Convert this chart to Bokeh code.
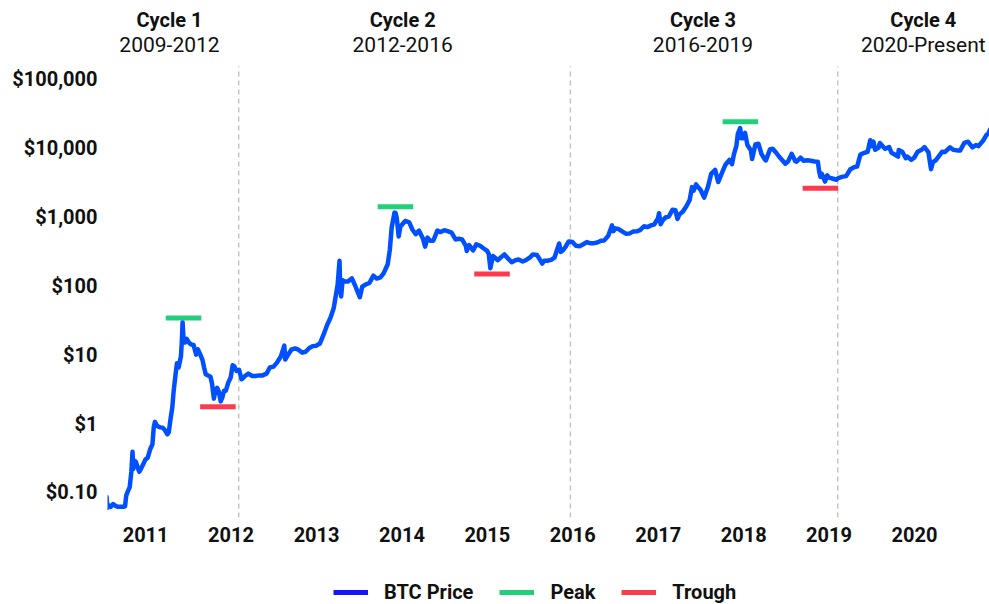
import pandas as pd
from bokeh.plotting import figure
from bokeh.layouts import column
from bokeh.models import (FixedTicker, DatetimeTickFormatter, Legend, LegendItem,
                          ColumnDataSource, Range1d)
from bokeh.embed import file_html
from bokeh.resources import INLINE
from bokeh.core.properties import value

# ---------------- data ----------------
btc_dates = [
    "2010-07-18", "2010-07-22", "2010-07-28", "2010-08-05", "2010-08-15", "2010-08-25",
    "2010-09-05", "2010-09-15", "2010-09-28", "2010-10-05", "2010-10-10", "2010-10-15",
    "2010-10-25", "2010-11-01", "2010-11-06", "2010-11-09", "2010-11-13", "2010-11-20",
    "2010-11-28", "2010-12-05", "2010-12-12", "2010-12-20", "2010-12-31",
    "2011-01-10", "2011-01-20", "2011-01-30", "2011-02-05", "2011-02-10", "2011-02-17",
    "2011-02-25", "2011-03-05", "2011-03-15", "2011-03-25", "2011-04-04", "2011-04-10",
    "2011-04-18", "2011-04-25", "2011-05-01", "2011-05-10", "2011-05-15", "2011-05-22",
    "2011-06-01", "2011-06-05", "2011-06-08", "2011-06-12", "2011-06-18", "2011-06-25",
    "2011-07-05", "2011-07-15", "2011-07-25", "2011-08-05", "2011-08-12", "2011-08-20",
    "2011-09-01", "2011-09-08", "2011-09-15", "2011-09-25", "2011-10-05", "2011-10-12",
    "2011-10-20", "2011-10-26", "2011-11-03", "2011-11-10", "2011-11-18", "2011-11-25",
    "2011-12-02", "2011-12-10", "2011-12-20", "2011-12-31",
    "2012-01-08", "2012-01-15", "2012-01-25", "2012-02-05", "2012-02-15", "2012-02-22",
    "2012-03-01", "2012-03-15", "2012-04-01", "2012-04-15", "2012-05-01", "2012-05-15",
    "2012-06-01", "2012-06-15", "2012-07-01", "2012-07-15", "2012-08-01", "2012-08-16",
    "2012-08-20", "2012-09-01", "2012-09-15", "2012-10-01", "2012-10-15", "2012-11-01",
    "2012-11-15", "2012-12-01", "2012-12-15", "2012-12-31",
    "2013-01-15", "2013-02-01", "2013-02-15", "2013-03-01", "2013-03-15", "2013-03-25",
    "2013-04-01", "2013-04-09", "2013-04-12", "2013-04-16", "2013-04-22", "2013-05-01",
    "2013-05-15", "2013-06-01", "2013-06-15", "2013-07-05", "2013-07-15", "2013-08-01",
    "2013-08-15", "2013-09-01", "2013-09-15", "2013-10-01", "2013-10-15", "2013-11-01",
    "2013-11-10", "2013-11-18", "2013-11-30", "2013-12-05", "2013-12-10", "2013-12-18",
    "2013-12-25", "2013-12-31",
    "2014-01-15", "2014-02-01", "2014-02-15", "2014-03-01", "2014-03-15", "2014-04-01",
    "2014-04-10", "2014-04-20", "2014-05-01", "2014-05-15", "2014-06-01", "2014-06-15",
    "2014-07-01", "2014-07-15", "2014-08-01", "2014-08-18", "2014-09-01", "2014-09-15",
    "2014-10-01", "2014-10-05", "2014-10-15", "2014-11-01", "2014-11-15", "2014-12-01",
    "2014-12-15", "2014-12-31",
    "2015-01-07", "2015-01-14", "2015-01-25", "2015-02-15", "2015-03-01", "2015-03-15",
    "2015-04-01", "2015-04-15", "2015-05-01", "2015-05-15", "2015-06-01", "2015-06-15",
    "2015-07-01", "2015-07-15", "2015-08-01", "2015-08-24", "2015-09-01", "2015-09-15",
    "2015-10-01", "2015-10-15", "2015-11-04", "2015-11-11", "2015-11-20", "2015-12-01",
    "2015-12-15", "2015-12-31",
    "2016-01-15", "2016-02-01", "2016-02-15", "2016-03-01", "2016-03-15", "2016-04-01",
    "2016-04-15", "2016-05-01", "2016-05-15", "2016-06-01", "2016-06-17", "2016-06-23",
    "2016-07-01", "2016-07-15", "2016-08-01", "2016-08-15", "2016-09-01", "2016-09-15",
    "2016-10-01", "2016-10-15", "2016-11-01", "2016-11-15", "2016-12-01", "2016-12-15",
    "2016-12-31",
    "2017-01-04", "2017-01-11", "2017-01-20", "2017-02-01", "2017-02-15", "2017-03-03",
    "2017-03-15", "2017-03-24", "2017-04-01", "2017-04-15", "2017-05-01", "2017-05-15",
    "2017-05-25", "2017-06-01", "2017-06-11", "2017-06-20", "2017-07-01", "2017-07-16",
    "2017-08-01", "2017-08-15", "2017-09-01", "2017-09-14", "2017-10-01", "2017-10-15",
    "2017-11-01", "2017-11-12", "2017-11-20", "2017-12-01", "2017-12-07", "2017-12-17",
    "2017-12-22", "2017-12-31",
    "2018-01-07", "2018-01-17", "2018-02-01", "2018-02-06", "2018-02-20", "2018-03-05",
    "2018-03-18", "2018-04-01", "2018-04-06", "2018-04-24", "2018-05-05", "2018-05-20",
    "2018-06-01", "2018-06-28", "2018-07-10", "2018-07-25", "2018-08-10", "2018-08-15",
    "2018-09-01", "2018-09-15", "2018-10-01", "2018-10-15", "2018-11-01", "2018-11-14",
    "2018-11-20", "2018-11-25", "2018-12-01", "2018-12-15", "2018-12-24", "2018-12-31",
    "2019-01-15", "2019-02-01", "2019-02-10", "2019-02-25", "2019-03-15", "2019-04-02",
    "2019-04-20", "2019-05-01", "2019-05-15", "2019-06-01", "2019-06-15", "2019-06-26",
    "2019-07-01", "2019-07-10", "2019-07-17", "2019-08-01", "2019-08-06", "2019-08-28",
    "2019-09-15", "2019-09-25", "2019-10-01", "2019-10-23", "2019-10-26", "2019-11-10",
    "2019-11-25", "2019-12-01", "2019-12-18", "2019-12-31",
    "2020-01-15", "2020-02-01", "2020-02-13", "2020-03-01", "2020-03-12", "2020-03-20",
    "2020-04-01", "2020-04-29", "2020-05-10", "2020-06-01", "2020-06-15", "2020-07-01",
    "2020-07-15", "2020-08-01", "2020-08-17", "2020-09-05", "2020-09-20", "2020-10-01",
    "2020-10-21", "2020-11-05", "2020-11-12", "2020-11-17", "2020-11-20",
]
btc_prices = [
    0.086, 0.060, 0.065, 0.062, 0.068, 0.064,
    0.062, 0.062, 0.062, 0.063, 0.090, 0.100,
    0.120, 0.200, 0.390, 0.220, 0.290, 0.280,
    0.230, 0.200, 0.220, 0.250, 0.300,
    0.32, 0.42, 0.50, 0.90, 1.06, 0.95,
    0.90, 0.88, 0.87, 0.80, 0.70, 0.75,
    1.2, 1.7, 3.0, 5.5, 7.5, 6.5,
    9.5, 16, 29.6, 17, 15, 17,
    15, 14, 13.8, 10, 12, 10.5,
    8.4, 6.5, 5.2, 5.0, 4.8, 3.8,
    2.3, 3.0, 3.3, 2.9, 2.1, 2.4,
    3.0, 3.0, 3.9, 4.7,
    7.0, 6.8, 5.8, 6.0, 4.4, 4.6,
    4.9, 5.3, 4.9, 4.9, 5.0, 5.0,
    5.3, 6.5, 6.7, 7.6, 9.4, 13.5,
    8.5, 10.0, 11.8, 12.3, 11.8, 10.7,
    11.0, 12.5, 13.3, 13.5,
    14.5, 20, 27, 34, 47, 75,
    104, 230, 90, 70, 120, 115,
    115, 128, 100, 68, 97, 105,
    110, 140, 127, 132, 152, 205,
    330, 700, 1150, 1130, 950, 520,
    720, 760,
    870, 830, 650, 560, 630, 480,
    370, 500, 450, 450, 630, 600,
    640, 620, 590, 470, 480, 470,
    380, 320, 390, 325, 400, 380,
    350, 320,
    290, 180, 270, 235, 260, 285,
    245, 220, 235, 240, 225, 235,
    255, 285, 280, 210, 230, 230,
    237, 255, 410, 310, 325, 365,
    440, 430,
    380, 375, 400, 430, 415, 415,
    425, 450, 455, 530, 750, 620,
    680, 665, 610, 570, 575, 610,
    615, 640, 730, 710, 750, 780,
    960,
    1130, 780, 890, 980, 1010, 1270,
    1250, 930, 1080, 1180, 1420, 1750,
    2700, 2400, 2950, 2700, 2450, 1900,
    2700, 4200, 4800, 3200, 4400, 5700,
    6700, 5800, 8000, 10800, 16000, 19400,
    13800, 13800,
    16500, 11000, 9200, 6900, 11200, 11500,
    8200, 6800, 6600, 9600, 9700, 8500,
    7500, 5900, 6400, 8200, 6400, 6300,
    7200, 6500, 6600, 6500, 6350, 6300,
    4500, 3800, 4200, 3250, 4000, 3700,
    3600, 3450, 3650, 3800, 3900, 4900,
    5300, 5350, 8000, 8500, 8800, 12900,
    10600, 12300, 9400, 10100, 11800, 9700,
    10300, 8500, 8300, 7500, 9300, 8800,
    7100, 7500, 6700, 7200,
    8800, 9400, 10300, 8600, 4900, 6200,
    6600, 8800, 8700, 10200, 9400, 9200,
    9200, 11800, 12300, 10200, 11000, 10600,
    12800, 15600, 16000, 17800, 18700,
]

peak_dates = ["2011-06-12", "2013-12-04", "2017-12-18"]
peak_levels = [34, 1400, 24000]
trough_dates = ["2011-11-06", "2015-01-21", "2018-11-25"]
trough_levels = [1.75, 148, 2600]

cycle_names = ["Cycle 1", "Cycle 2", "Cycle 3", "Cycle 4"]
cycle_years = ["2009-2012", "2012-2016", "2016-2019", "2020-Present"]
cycle_label_dates = ["2011-04-13", "2014-01-04", "2017-07-11", "2020-02-08"]
cycle_boundaries = ["2012-02-03", "2015-12-22", "2019-02-07"]

year_ticks = list(range(2011, 2021))
price_ticks = [0.1, 1, 10, 100, 1000, 10000, 100000]
price_labels = ["$0.10", "$1", "$10", "$100", "$1,000", "$10,000", "$100,000"]

legend_labels = ["BTC Price", "Peak", "Trough"]

# ---------------- styling / layout ----------------
BLUE = "#0050ff"
BLUE_LEGEND = "#1414ff"
GREEN = "#22cf7a"
RED = "#ff3a4c"
GRAY = "#c4c4c4"
TXT = "#111111"
FONT = "Roboto"

X_START, X_END = "2010-07-22", "2020-11-17"
Y_START, Y_END = 10 ** -1.363, 10 ** 6.139
DASH_TOP = 10 ** 5.18
TITLE_Y = 10 ** 5.863
SUB_Y = 10 ** 5.50
HALF_W = pd.Timedelta(days=76)


def ts(d):
    return pd.to_datetime(d)


src = ColumnDataSource(dict(x=pd.to_datetime(btc_dates), y=btc_prices))

p = figure(width=989, height=560, x_axis_type="datetime", y_axis_type="log",
           output_backend="svg", toolbar_location=None,
           x_range=Range1d(ts(X_START), ts(X_END)),
           y_range=Range1d(Y_START, Y_END),
           min_border_left=107, min_border_right=0, min_border_top=0,
           min_border_bottom=43)
p.outline_line_color = None
p.grid.grid_line_color = None
p.background_fill_color = "white"

# cycle boundaries
bx = pd.to_datetime(cycle_boundaries)
p.segment(x0=bx, x1=bx, y0=[Y_START] * len(bx), y1=[DASH_TOP] * len(bx),
          line_color=GRAY, line_width=1.5, line_dash="5 4")

# price line
p.line("x", "y", source=src, line_color=BLUE, line_width=4.5,
       line_join="round", line_cap="round")

pk = pd.to_datetime(peak_dates)
p.segment(x0=pk - HALF_W, x1=pk + HALF_W, y0=peak_levels, y1=peak_levels,
          line_color=GREEN, line_width=5)
tr = pd.to_datetime(trough_dates)
p.segment(x0=tr - HALF_W, x1=tr + HALF_W, y0=trough_levels, y1=trough_levels,
          line_color=RED, line_width=5)

# cycle titles
cx = pd.to_datetime(cycle_label_dates)
p.text(x=cx, y=[TITLE_Y] * 4, text=cycle_names, text_align="center",
       text_baseline="middle", text_font=value(FONT), text_font_style="bold",
       text_font_size="20px", text_color=TXT)
p.text(x=cx, y=[SUB_Y] * 4, text=cycle_years, text_align="center",
       text_baseline="middle", text_font=value(FONT), text_font_style="normal",
       text_font_size="21px", text_color=TXT)

# axes
xa = p.xaxis[0]
xa.ticker = FixedTicker(ticks=[pd.Timestamp(f"{y}-01-01").value / 1e6 for y in year_ticks])
xa.formatter = DatetimeTickFormatter(years="%Y", months="%Y", days="%Y", hours="%Y",
                                     minutes="%Y", seconds="%Y", milliseconds="%Y")
ya = p.yaxis[0]
ya.ticker = FixedTicker(ticks=price_ticks)
ya.major_label_overrides = {t: l for t, l in zip(price_ticks, price_labels)}
for ax in (xa, ya):
    ax.axis_line_color = None
    ax.major_tick_line_color = None
    ax.minor_tick_line_color = None
    ax.major_tick_out = 0
    ax.minor_tick_out = 0
    ax.major_label_text_font = FONT
    ax.major_label_text_font_style = "bold"
    ax.major_label_text_font_size = "20px"
    ax.major_label_text_color = TXT
xa.major_label_standoff = 9
ya.major_label_standoff = 10

# ---------------- legend strip ----------------
lg = figure(width=989, height=44, output_backend="svg", toolbar_location=None,
            x_range=Range1d(0, 1), y_range=Range1d(0, 1),
            x_axis_location=None, y_axis_location=None, min_border=0)
lg.outline_line_color = None
lg.grid.grid_line_color = None
lg_renderers = [lg.line(x=[5, 6], y=[5, 5], line_color=c, line_width=5)
                for c in (BLUE_LEGEND, GREEN, RED)]
legend = Legend(items=[LegendItem(label=l, renderers=[r])
                       for l, r in zip(legend_labels, lg_renderers)],
                orientation="horizontal", location=(226, 0),
                glyph_width=35, glyph_height=20, label_standoff=16, spacing=26,
                padding=0, margin=0, border_line_color=None, background_fill_alpha=0,
                label_text_font=FONT, label_text_font_style="bold",
                label_text_font_size="20px", label_text_color=TXT)
lg.add_layout(legend)

layout = column(p, lg, spacing=0)
open("out.html", "w").write(file_html(layout, INLINE))
